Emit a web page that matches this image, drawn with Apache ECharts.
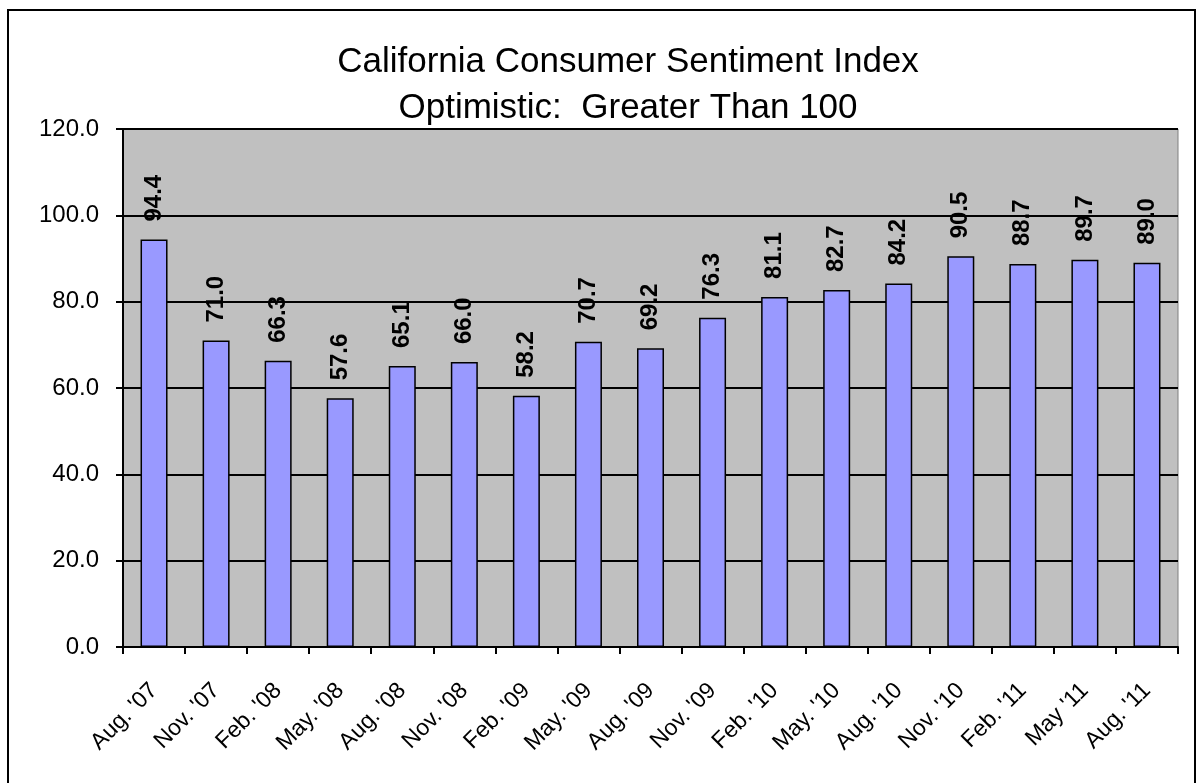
<!DOCTYPE html>
<html>
<head>
<meta charset="utf-8">
<script src="https://cdn.jsdelivr.net/npm/echarts@6/dist/echarts.min.js"></script>
<style>
  html, body { margin: 0; padding: 0; background: #fff; }
  #chart { width: 1200px; height: 783px; }
</style>
</head>
<body>
<div id="chart"></div>
<script>
const quarters = ["Aug. '07", "Nov. '07", "Feb. '08", "May. '08", "Aug. '08", "Nov. '08", "Feb. '09", "May. '09", "Aug. '09", "Nov. '09", "Feb. '10", "May. '10", "Aug. '10", "Nov. '10", "Feb. '11", "May '11", "Aug. '11"]
const sentiment = [94.4, 71.0, 66.3, 57.6, 65.1, 66.0, 58.2, 70.7, 69.2, 76.3, 81.1, 82.7, 84.2, 90.5, 88.7, 89.7, 89.0]

const chart = echarts.init(document.getElementById('chart'))

chart.setOption({
  animation: false,
  backgroundColor: '#fff',
  title: {
    text: 'California Consumer Sentiment Index\nOptimistic:  Greater Than 100',
    left: 623,
    top: 34,
    textAlign: 'center',
    textStyle: {
      fontFamily: 'Liberation Sans, Arial',
      fontSize: 35,
      fontWeight: 'normal',
      color: '#000',
      lineHeight: 46
    }
  },
  graphic: [
    {
      type: 'rect',
      shape: { x: 8, y: 10, width: 1187, height: 790 },
      style: { fill: 'none', stroke: '#000', lineWidth: 2 },
      z: -1
    }
  ],
  grid: { left: 123, right: 22, top: 129, bottom: 136, show: true, backgroundColor: '#c0c0c0', borderColor: '#808080', borderWidth: 1 },
  xAxis: {
    type: 'category',
    data: quarters,
    axisLine: { lineStyle: { color: '#000', width: 2 } },
    axisTick: { show: true, length: 7, lineStyle: { color: '#000', width: 2 } },
    axisLabel: {
      rotate: 45,
      margin: 40,
      fontFamily: 'Liberation Sans, Arial',
      fontSize: 23,
      color: '#000'
    }
  },
  yAxis: {
    type: 'value',
    min: 0,
    max: 120,
    interval: 20,
    axisLine: { show: true, lineStyle: { color: '#000', width: 2 } },
    axisTick: { show: true, length: 7, lineStyle: { color: '#000', width: 2 } },
    splitLine: { lineStyle: { color: '#000', width: 2 } },
    axisLabel: {
      margin: 24,
      formatter: (v) => v.toFixed(1),
      fontFamily: 'Liberation Sans, Arial',
      fontSize: 24,
      color: '#000'
    }
  },
  series: [
    {
      type: 'bar',
      data: sentiment,
      barWidth: 27,
      itemStyle: { color: '#9999ff', borderColor: '#000', borderWidth: 1.5 },
      label: {
        show: true,
        position: 'top',
        distance: 18,
        rotate: 90,
        align: 'left',
        verticalAlign: 'middle',
        formatter: (p) => p.value.toFixed(1),
        fontFamily: 'Liberation Sans, Arial',
        fontWeight: 'bold',
        fontSize: 24,
        color: '#000'
      }
    }
  ]
})
</script>
</body>
</html>
